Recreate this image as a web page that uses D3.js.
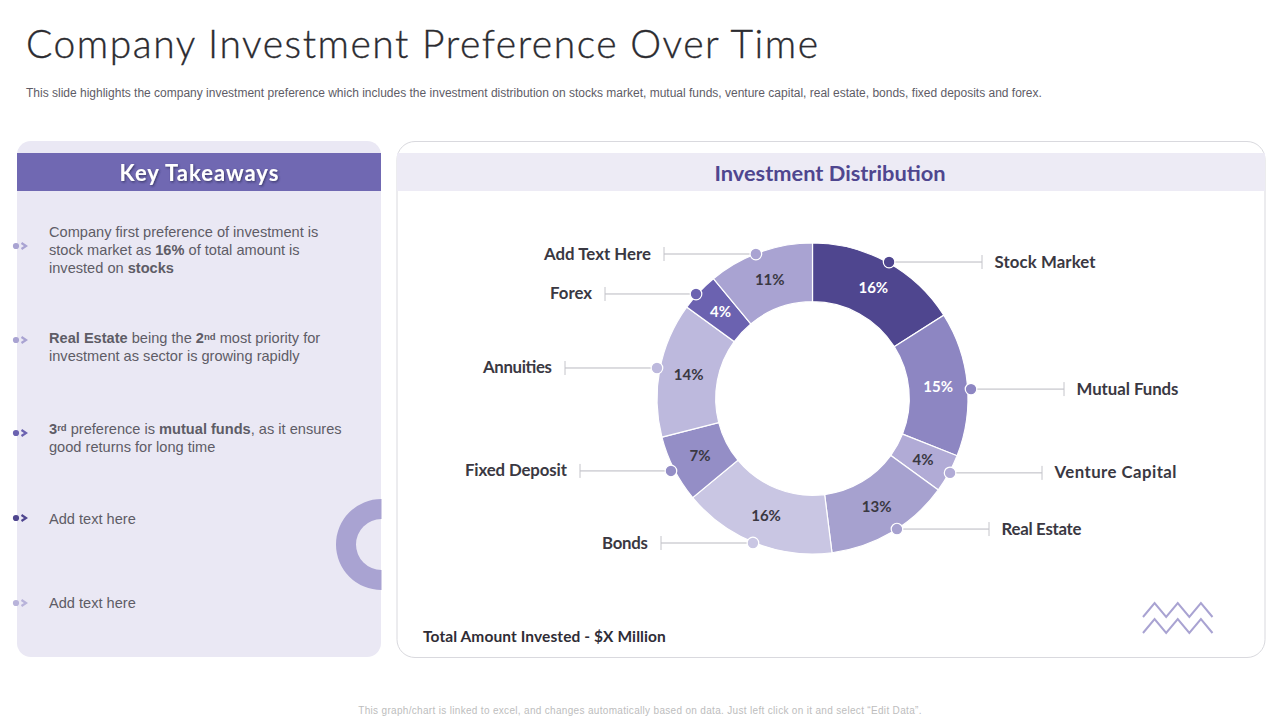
<!DOCTYPE html>
<html>
<head>
<meta charset="utf-8">
<script src="https://cdn.jsdelivr.net/npm/d3@7"></script>
<style>
  html, body { margin: 0; padding: 0; background: #fff; }
  svg { display: block; }
  text { font-family: "Lato", sans-serif; }
  .body-text { font-family: "Liberation Sans", Arial, sans-serif; font-size: 14.6px; fill: #5e5c66; }
</style>
</head>
<body>
<div id="chart"></div>
<script>
const categories = ['Stock Market', 'Mutual Funds', 'Venture Capital', 'Real Estate', 'Bonds', 'Fixed Deposit', 'Annuities', 'Forex', 'Add Text Here']
const shares = [16, 15, 4, 13, 16, 7, 14, 4, 11]
const sliceColors = ['#4f468f', '#8d86c2', '#b1abd6', '#a6a1cf', '#c9c6e3', '#948ec6', '#bdb9dd', '#6b62b0', '#a9a3d2']
const whiteLabels = ['Stock Market', 'Mutual Funds', 'Forex']

// leader lines: dot angle (degrees from top) and radius, where the line stops, label width
const leaderAngles = [29.3, 86.6, 118.4, 147.1, 202.4, 242.9, 281.1, 311.9, 338.6]
const leaderRadii = [156.5, 158.8, 156.4, 155.5, 156.3, 159, 158.5, 156.5, 155.2]
const leaderEnds = [982, 1064, 1042, 989, 661, 580, 565, 605, 664]
const labelWidths = [101, 102, 122, 80, 46, 102, 69, 42, 107]

const takeaways = [
  [
    [['Company first preference of investment is']],
    [['stock market as '], ['16%', 'b'], [' of total amount is']],
    [['invested on '], ['stocks', 'b']]
  ],
  [
    [['Real Estate', 'b'], [' being the '], ['2', 'b'], ['nd', 'sup'], [' most priority for']],
    [['investment as sector is growing rapidly']]
  ],
  [
    [['3', 'b'], ['rd', 'sup'], [' preference is '], ['mutual funds', 'b'], [', as it ensures']],
    [['good returns for long time']]
  ],
  [[['Add text here']]],
  [[['Add text here']]]
]
const bulletColors = ['#a9a3d2', '#a9a3d2', '#6b62b0', '#4f468f', '#b8b3da']
const bulletY = [246, 340, 433, 518, 603]
const firstBaseline = [237, 343, 434, 524, 608]

const width = 1280
const height = 720
const cx = 812.5
const cy = 398.5
const outerR = 155.5
const innerR = 96.8

const svg = d3.select('#chart').append('svg')
  .attr('width', width)
  .attr('height', height)

const defs = svg.append('defs')
defs.append('filter').attr('id', 'soft')
  .append('feDropShadow')
  .attr('dx', 1).attr('dy', 1.2).attr('stdDeviation', 0.8)
  .attr('flood-color', '#2c2750').attr('flood-opacity', 0.75)

// title block
svg.append('text')
  .attr('x', 26).attr('y', 58)
  .attr('font-size', 39).attr('font-weight', 300)
  .attr('textLength', 792)
  .attr('lengthAdjust', 'spacing')
  .attr('fill', '#2b2b30')
  .attr('stroke', '#2b2b30')
  .attr('stroke-width', 0.35)
  .text('Company Investment Preference Over Time')

svg.append('text')
  .attr('class', 'body-text')
  .attr('x', 26).attr('y', 96.5)
  .style('font-size', '12px')
  .text('This slide highlights the company investment preference which includes the investment distribution on stocks market, mutual funds, venture capital, real estate, bonds, fixed deposits and forex.')

svg.append('text')
  .attr('class', 'body-text')
  .attr('x', 640).attr('y', 714)
  .attr('text-anchor', 'middle')
  .style('font-size', '10px')
  .style('fill', '#bdbdbd')
  .attr('letter-spacing', 0.32)
  .text('This graph/chart is linked to excel, and changes automatically based on data. Just left click on it and select “Edit Data”.')

// left panel
const left = svg.append('g')
left.append('rect')
  .attr('x', 17).attr('y', 141).attr('width', 364).attr('height', 516)
  .attr('rx', 14).attr('fill', '#eae8f4')
left.append('rect')
  .attr('x', 17).attr('y', 153).attr('width', 364).attr('height', 38)
  .attr('fill', '#7068b2')
left.append('text')
  .attr('x', 199.5).attr('y', 181)
  .attr('text-anchor', 'middle')
  .attr('font-size', 22).attr('font-weight', 700)
  .attr('letter-spacing', 1)
  .attr('fill', '#fff')
  .attr('filter', 'url(#soft)')
  .text('Key Takeaways')

// half ring clipped by the panel edge
left.append('path')
  .attr('transform', 'translate(381.5,544.5)')
  .attr('fill', '#a9a3d2')
  .attr('d', d3.arc().innerRadius(25.5).outerRadius(45.5).startAngle(Math.PI).endAngle(2 * Math.PI)())

takeaways.forEach((lines, i) => {
  const item = left.append('g')
  item.append('circle')
    .attr('cx', 16).attr('cy', bulletY[i]).attr('r', 3.1)
    .attr('fill', bulletColors[i])
  item.append('path')
    .attr('d', `M21.5,${bulletY[i] - 3}L26,${bulletY[i]}L21.5,${bulletY[i] + 3}`)
    .attr('fill', 'none')
    .attr('stroke', bulletColors[i])
    .attr('stroke-width', 2.2)

  lines.forEach((runs, j) => {
    const t = item.append('text')
      .attr('class', 'body-text')
      .attr('x', 49)
      .attr('y', firstBaseline[i] + j * 18)
    runs.forEach(run => {
      const s = t.append('tspan').text(run[0])
      if (run[1] === 'b') s.attr('font-weight', 700)
      if (run[1] === 'sup') s.attr('font-weight', 700).attr('font-size', 9.5).attr('baseline-shift', '35%')
    })
  })
})

// right panel
const right = svg.append('g')
right.append('rect')
  .attr('x', 397).attr('y', 141.5).attr('width', 868).attr('height', 516)
  .attr('rx', 18).attr('fill', '#fff')
  .attr('stroke', '#d9d9de')
right.append('rect')
  .attr('x', 397).attr('y', 153).attr('width', 868).attr('height', 38)
  .attr('fill', '#edebf5')
right.append('text')
  .attr('x', 830).attr('y', 181)
  .attr('text-anchor', 'middle')
  .attr('font-size', 21.8).attr('font-weight', 700)
  .attr('fill', '#4f468f')
  .text('Investment Distribution')

right.append('text')
  .attr('x', 423).attr('y', 642)
  .attr('font-size', 15.5).attr('font-weight', 700)
  .attr('letter-spacing', 0.1)
  .attr('fill', '#2f2d36')
  .text('Total Amount Invested - $X Million')

// zigzag ornament
const zig = d3.line()
const zigX = d3.scaleLinear().domain([0, 6]).range([1143, 1212.5])
;[0, 16].forEach(dy => {
  right.append('path')
    .attr('d', zig(d3.range(7).map(k => [zigX(k), (k % 2 ? 603 : 617) + dy])))
    .attr('fill', 'none')
    .attr('stroke', '#a9a3d2')
    .attr('stroke-width', 2)
})

// donut
const pie = d3.pie().sort(null).value((_, i) => shares[i])
const arc = d3.arc().innerRadius(innerR).outerRadius(outerR)
const arcs = pie(categories)

const donut = svg.append('g').attr('transform', `translate(${cx},${cy})`)

donut.selectAll('path.slice')
  .data(arcs)
  .enter()
  .append('path')
  .attr('class', 'slice')
  .attr('d', arc)
  .attr('fill', (_, i) => sliceColors[i])
  .attr('stroke', '#fff')
  .attr('stroke-width', 1.2)

donut.selectAll('text.pct')
  .data(arcs)
  .enter()
  .append('text')
  .attr('class', 'pct')
  .attr('transform', d => `translate(${arc.centroid(d)})`)
  .attr('text-anchor', 'middle')
  .attr('dy', '0.35em')
  .attr('font-size', 15).attr('font-weight', 700)
  .attr('fill', d => whiteLabels.includes(d.data) ? '#fff' : '#3a3842')
  .text((_, i) => shares[i] + '%')

const leaders = svg.append('g')
arcs.forEach((d, i) => {
  const a = leaderAngles[i] * Math.PI / 180
  const x = cx + leaderRadii[i] * Math.sin(a)
  const y = cy - leaderRadii[i] * Math.cos(a)
  const endX = leaderEnds[i]
  const toRight = endX > x
  leaders.append('line')
    .attr('x1', x).attr('y1', y).attr('x2', endX).attr('y2', y)
    .attr('stroke', '#b9b9c0')
  leaders.append('line')
    .attr('x1', endX).attr('y1', y - 7).attr('x2', endX).attr('y2', y + 7)
    .attr('stroke', '#c4c4ca')
  leaders.append('circle')
    .attr('cx', x).attr('cy', y).attr('r', 5.8)
    .attr('fill', sliceColors[i])
    .attr('stroke', '#fff')
    .attr('stroke-width', 1.2)
  leaders.append('text')
    .attr('x', toRight ? endX + 12.5 : endX - 13 - labelWidths[i])
    .attr('y', y + 5.5)
    .attr('textLength', labelWidths[i])
    .attr('lengthAdjust', 'spacing')
    .attr('font-size', 16.8).attr('font-weight', 700)
    .attr('fill', '#3a3842')
    .text(d.data)
})
</script>
</body>
</html>
